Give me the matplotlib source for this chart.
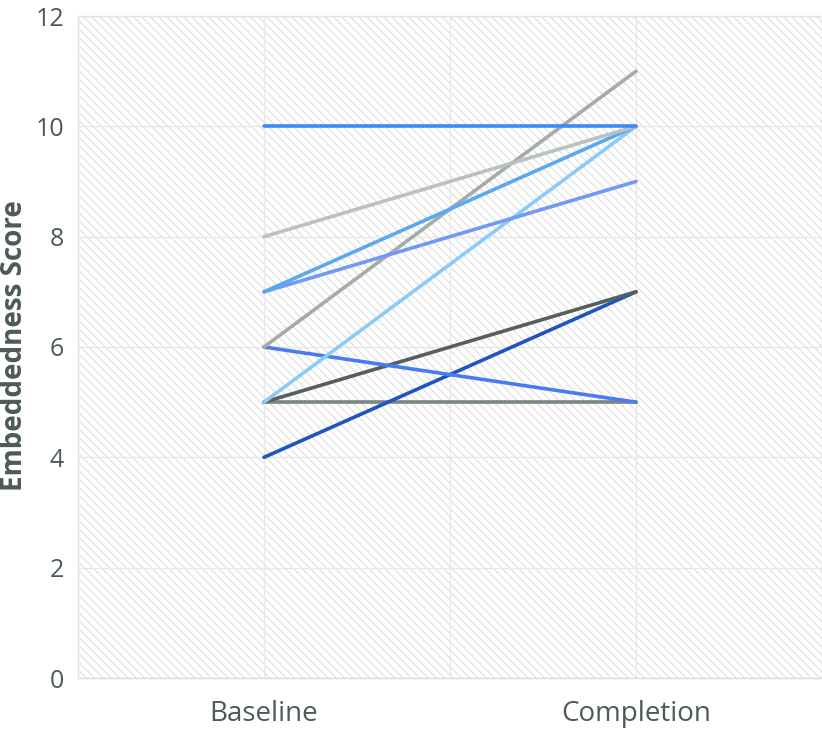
import matplotlib
matplotlib.use("Agg")
import matplotlib.pyplot as plt
from matplotlib.patches import Rectangle

categories = ["Baseline", "Completion"]
baseline = [5, 4, 5, 6, 5, 6, 7, 7, 8, 10]
completion = [5, 7, 7, 5, 10, 11, 9, 10, 10, 10]
colors = ["#7b8585", "#1f55c0", "#555f5f", "#4a7af5", "#8ccbf7",
          "#a4abab", "#7399f5", "#5aa9f0", "#b8c2c2", "#3d8af7"]
y_ticks = [0, 2, 4, 6, 8, 10, 12]

plt.rcParams['hatch.linewidth'] = 0.8
plt.rcParams['font.family'] = ['Open Sans', 'DejaVu Sans']

fig = plt.figure(figsize=(8.22, 7.3), dpi=100)
ax = fig.add_axes([78/822, 1-678/730, (822-78)/822, (678-16)/730])

ax.add_patch(Rectangle((0, 0), 1, 1, transform=ax.transAxes, facecolor='white',
                       edgecolor='#dedede', linewidth=0, hatch='\\\\\\\\', zorder=0))

x = list(range(len(categories)))
for b, c, col in zip(baseline, completion, colors):
    ax.plot(x, [b, c], color=col, lw=2.6, solid_capstyle='round', zorder=3)

ax.set_xlim(-0.5, 1.5)
ax.set_ylim(0, 12)
ax.set_xticks(x)
ax.set_xticklabels(categories)
ax.set_xticks([-0.5, 0.5, 1.5], minor=True)
ax.set_yticks(y_ticks)
ax.grid(True, which='both', color='#e8e8e8', lw=1, zorder=1)
for s in ax.spines.values():
    s.set_color('#e4e4e4')
    s.set_linewidth(1)
ax.spines['bottom'].set_color('#d8dcdc')
ax.tick_params(which='both', length=0)
ax.tick_params(axis='y', labelsize=18, labelcolor='#4d5a5a', pad=10)
ax.tick_params(axis='x', labelsize=20, labelcolor='#4d5a5a', pad=16)
fig.text(15/822, 1-346/730, "Embeddedness Score", rotation=90, ha='center', va='center',
         fontsize=20, fontweight='bold', color='#4d5a5a')

fig.savefig("out.png", dpi=100)
